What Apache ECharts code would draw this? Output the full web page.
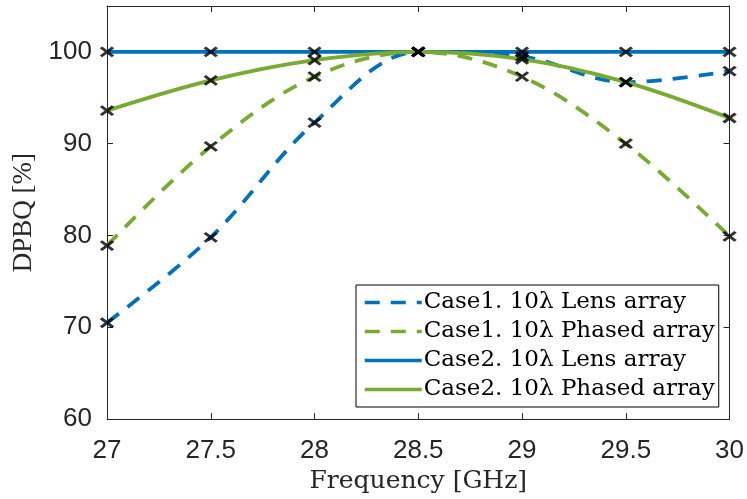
<!DOCTYPE html>
<html>
<head>
<meta charset="utf-8">
<script src="https://cdn.jsdelivr.net/npm/echarts@6/dist/echarts.min.js"></script>
<style>
  html, body { margin: 0; padding: 0; background: #fff; }
  #chart { width: 747px; height: 499px; }
</style>
</head>
<body>
<div id="chart"></div>
<script>
// Frequency samples [GHz]
const freq = [27, 27.5, 28, 28.5, 29, 29.5, 30];

// DPBQ [%] per configuration
const case1Lens   = [70.5, 79.8, 92.3, 100, 99.5, 96.7, 97.9];
const case1Phased = [78.9, 89.7, 97.3, 100, 97.3, 90.0, 79.9];
const case2Lens   = [100, 100, 100, 100, 100, 100, 100];
const case2Phased = [93.6, 96.9, 99.1, 100, 99.2, 96.7, 92.8];

const seriesNames = [
  'Case1. 10\u03bb Lens array',
  'Case1. 10\u03bb Phased array',
  'Case2. 10\u03bb Lens array',
  'Case2. 10\u03bb Phased array'
];

const BLUE = '#0072BD';
const GREEN = '#77AC30';
const AXIS = '#262626';
const SANS = '"Liberation Sans", Arial, Helvetica, sans-serif';
const SERIF = '"DejaVu Serif", "Liberation Serif", serif';

const pairs = ys => freq.map((f, i) => [f, ys[i]]);

function curve(name, ys, color, dashed) {
  return {
    name: name,
    type: 'line',
    data: pairs(ys),
    smooth: 0.35,
    symbol: 'none',
    lineStyle: { color: color, width: 3.8, type: dashed ? [15, 11] : 'solid' },
    itemStyle: { color: color },
    z: 2
  };
}

// black "x" markers at the measured frequencies
const crossPath = 'path://M0,0L10,10M10,0L0,10';
function markers(ys) {
  return {
    type: 'scatter',
    data: pairs(ys),
    symbol: crossPath,
    symbolSize: [12, 9],
    itemStyle: { color: 'none', borderColor: '#000', borderWidth: 3 },
    silent: true,
    z: 5
  };
}

const chart = echarts.init(document.getElementById('chart'), null, { renderer: 'canvas' });

const tickStyle = { show: true, inside: true, length: 6, lineStyle: { color: AXIS, width: 1 } };

chart.setOption({
  animation: false,
  backgroundColor: '#fff',
  grid: { left: 107, right: 16, top: 6, bottom: 79, show: false },
  xAxis: [
    {
      type: 'value', min: 27, max: 30, interval: 0.5,
      name: 'Frequency [GHz]', nameLocation: 'middle', nameGap: 49,
      nameTextStyle: { fontFamily: SERIF, fontSize: 25, color: AXIS },
      axisLine: { show: true, lineStyle: { color: AXIS, width: 1 } },
      axisTick: tickStyle,
      axisLabel: { fontFamily: SANS, fontSize: 26, color: AXIS, margin: 19 },
      splitLine: { show: false }
    },
    {
      type: 'value', min: 27, max: 30, interval: 0.5, position: 'top',
      axisLine: { show: true, onZero: false, lineStyle: { color: AXIS, width: 1 } },
      axisTick: tickStyle,
      axisLabel: { show: false },
      splitLine: { show: false }
    }
  ],
  yAxis: [
    {
      type: 'value', min: 60, max: 105, interval: 10,
      name: 'DPBQ [%]', nameLocation: 'middle', nameGap: 65,
      nameTextStyle: { fontFamily: '"Liberation Serif", "Times New Roman", serif', fontSize: 27, color: AXIS },
      axisLine: { show: true, lineStyle: { color: AXIS, width: 1 } },
      axisTick: tickStyle,
      axisLabel: { fontFamily: SANS, fontSize: 26, color: AXIS, margin: 15, showMaxLabel: false },
      splitLine: { show: false }
    },
    {
      type: 'value', min: 60, max: 105, interval: 10, position: 'right',
      axisLine: { show: true, onZero: false, lineStyle: { color: AXIS, width: 1 } },
      axisTick: tickStyle,
      axisLabel: { show: false },
      splitLine: { show: false }
    }
  ],
  legend: {
    data: seriesNames,
    orient: 'vertical',
    left: 356, top: 285,
    padding: [6, 4, 6, 7],
    itemGap: 6,
    itemWidth: 57,
    itemHeight: 20,
    backgroundColor: '#fff',
    borderColor: '#000',
    borderWidth: 1,
    itemStyle: { opacity: 0 },
    lineStyle: { width: 3.5 },
    textStyle: { fontFamily: SERIF, fontSize: 23, color: '#000', padding: [0, 0, 0, -3] }
  },
  series: [
    curve(seriesNames[0], case1Lens, BLUE, true),
    curve(seriesNames[1], case1Phased, GREEN, true),
    curve(seriesNames[2], case2Lens, BLUE, false),
    curve(seriesNames[3], case2Phased, GREEN, false),
    markers(case1Lens),
    markers(case1Phased),
    markers(case2Lens),
    markers(case2Phased)
  ]
});
</script>
</body>
</html>
